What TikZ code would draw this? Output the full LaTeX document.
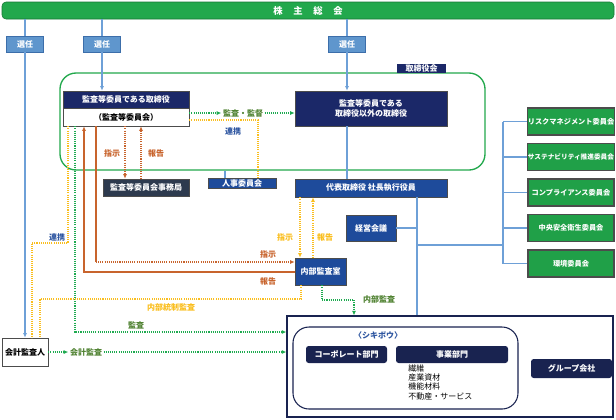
\documentclass[tikz,border=0pt]{standalone}
\usepackage{fontspec}
\setmainfont{Noto Sans CJK JP}
\usetikzlibrary{arrows.meta, positioning}

\definecolor{soukaigreen}{RGB}{34,168,76}
\definecolor{iinkaigreen}{RGB}{32,160,72}
\definecolor{navyhead}{RGB}{27,40,104}
\definecolor{blueboard}{RGB}{30,75,155}
\definecolor{slatebox}{RGB}{45,58,78}
\definecolor{selfill}{RGB}{95,150,205}
\definecolor{selborder}{RGB}{60,110,170}
\definecolor{selline}{RGB}{110,160,215}
\definecolor{houkoku}{RGB}{200,100,45}
\definecolor{renkei}{RGB}{250,190,30}
\definecolor{kansadot}{RGB}{30,170,80}
\definecolor{kansatext}{RGB}{80,130,50}
\definecolor{renkeitext}{RGB}{45,85,160}
\definecolor{groupnavy}{RGB}{25,35,80}

\begin{document}
\begin{tikzpicture}[x=0.75pt,y=0.75pt,yscale=-1,xscale=1,
  >={Latex[length=3.5pt,width=3pt]},
  boxsize/.style 2 args={minimum width=#1*0.75pt,minimum height=#2*0.75pt,inner sep=0pt},
  txt/.style={font=\fontsize{6pt}{7pt}\selectfont\bfseries},
  senbox/.style={txt,draw=selborder,fill=selfill,text=white,boxsize={37}{16}},
  navybox/.style={txt,draw=black!70,fill=navyhead,text=white,align=center},
  bluebox/.style={txt,draw=black!70,fill=blueboard,text=white,align=center},
  iinkai/.style={font=\fontsize{5.4pt}{6pt}\selectfont\bfseries,draw=black!70,line width=0.8pt,fill=iinkaigreen,text=white,boxsize={86}{27}},
  grpbox/.style={txt,fill=groupnavy,text=white,rounded corners=2pt},
  lbl/.style={txt,inner sep=1pt},
  linesel/.style={draw=selline,line width=0.9pt},
  ydot/.style={draw=renkei,line width=0.9pt,dash pattern=on 0.8pt off 0.8pt},
  gdot/.style={draw=kansadot,line width=0.9pt,dash pattern=on 0.8pt off 0.8pt},
  odot/.style={draw=houkoku,line width=0.9pt,dash pattern=on 0.8pt off 0.8pt},
  oline/.style={draw=houkoku,line width=1.1pt}]
\useasboundingbox (0,0) rectangle (616,419);

%株主総会
\node[txt,font=\fontsize{7pt}{8pt}\selectfont\bfseries,draw=soukaigreen!70!black,fill=soukaigreen,text=white,rounded corners=3pt,boxsize={612}{17}] (soukai) at (308,10.5) {株\hspace{8pt}主\hspace{8pt}総\hspace{8pt}会};

%選任
\node[senbox] (senA) at (25,44) {選任};
\node[senbox] (senB) at (102,44) {選任};
\node[senbox] (senC) at (347,44) {選任};

%取締役会
\node[draw=soukaigreen,line width=1pt,rounded corners=12pt,boxsize={425}{97}] (board) at (272.5,121.5) {};
\node[navybox,draw=none,boxsize={49}{9}] (boardlbl) at (421.5,68.5) {取締役会};

%監査等委員である取締役
\node[navybox,boxsize={126}{17}] (Ahead) at (126,99.5) {監査等委員である取締役};
\node[txt,draw=black!70,fill=white,boxsize={126}{18}] (Abody) at (126,117) {（監査等委員会）};
\node[navybox,boxsize={152}{35}] (Bnode) at (371,108.5) {監査等委員である\\取締役以外の取締役};

\node[navybox,fill=slatebox,boxsize={86}{17}] (jimu) at (146,187.5) {監査等委員会事務局};
\node[bluebox,boxsize={68}{10}] (jinji) at (242,183.5) {人事委員会};
\node[bluebox,boxsize={152}{18}] (ceo) at (371,188) {代表取締役 社長執行役員};
\node[bluebox,boxsize={50}{26}] (keiei) at (371,228) {経営会議};
\node[bluebox,boxsize={51}{27}] (naibu) at (320.5,271.5) {内部監査室};

%委員会
\foreach \t [count=\i] in {リスクマネジメント委員会,{\fontsize{5pt}{6pt}\selectfont サステナビリティ推進委員会},コンプライアンス委員会,中央安全衛生委員会,環境委員会}
  \node[iinkai] (iinkai\i) at (571,86+35.5*\i) {\t};

%会計監査人
\node[txt,draw=black!70,fill=white,boxsize={46}{28}] (kaikei) at (25,352) {会計監査人};

%グループ
\node[draw=groupnavy,line width=0.8pt,fill=white,boxsize={326}{101}] (group) at (450,366.5) {};
\node[draw=groupnavy,line width=0.8pt,rounded corners=12pt,boxsize={225}{82}] (shikibo) at (405.5,368) {};
\node[lbl,text=renkeitext] (shikibolbl) at (378,335) {〈シキボウ〉};
\node[grpbox,boxsize={81}{17}] (corp) at (346.5,354.5) {コーポレート部門};
\node[grpbox,boxsize={112}{17}] (jigyo) at (452,354.5) {事業部門};
\node[font=\fontsize{6pt}{7.1pt}\selectfont,anchor=north west,align=left,inner sep=0pt] (jigyolist) at (408,364) {繊維\\産業資材\\機能材料\\不動産・サービス};
\node[grpbox,boxsize={81}{19}] (grpco) at (571.5,368.5) {グループ会社};

%labels
\node[lbl,text=kansatext] (kansakantoku) at (243,113) {監査・監督};
\node[lbl,text=renkeitext] (renkeiA) at (233,131) {連携};
\node[lbl,text=houkoku] (shijiJ) at (112,153) {指示};
\node[lbl,text=houkoku] (houkokuJ) at (156,153) {報告};
\node[lbl,text=renkeitext] (renkeiK) at (57,237) {連携};
\node[lbl,text=renkei] (shijiC) at (285,237) {指示};
\node[lbl,text=renkei] (houkokuC) at (325,237) {報告};
\node[lbl,text=houkoku] (shijiN) at (268,254) {指示};
\node[lbl,text=houkoku] (houkokuN) at (268,281) {報告};
\node[lbl,text=kansatext] (naibukansa) at (379,299) {内部監査};
\node[lbl,text=renkei] (toseikansa) at (171,307) {内部統制監査};
\node[lbl,text=kansatext] (kansaG) at (136,325) {監査};
\node[lbl,text=kansatext] (kaikeikansa) at (86,352) {会計監査};

%選任 lines
\draw[linesel] (soukai.south -| senA) -- (senA.north);
\draw[linesel,->] (senA.south) -- (kaikei.north);
\draw[linesel] (soukai.south -| senB) -- (senB.north);
\draw[linesel,->] (senB.south) -- (senB.south |- Ahead.north);
\draw[linesel] (soukai.south -| senC) -- (senC.north);
\draw[linesel,->] (senC.south) -- (senC.south |- Bnode.north);
\draw[linesel] (Bnode.south -| senC) -- (ceo.north -| senC);

%監査・監督
\draw[gdot,->] (Abody.east |- kansakantoku) -- (kansakantoku.west);
\draw[gdot,->] (kansakantoku.east) -- (Bnode.west |- kansakantoku);

%人事委員会
\coordinate (yJ) at (258,120);
\draw[ydot] (Abody.east |- yJ) -- (yJ) -- (jinji.north -| yJ);
\coordinate (bJ) at (225,0);
\draw[linesel] (board.south -| bJ) -- (jinji.north -| bJ);

%事務局
\coordinate (oJ1) at (125,0);
\coordinate (oJ2) at (141,0);
\draw[odot,->] (Abody.south -| oJ1) -- (jimu.north -| oJ1);
\draw[odot,->] (jimu.north -| oJ2) -- (Abody.south -| oJ2);

%left side
\coordinate (yL1) at (68,243);
\coordinate (yL2) at (32,243);
\draw[ydot] (Abody.south -| yL1) -- (yL1) -- (yL2) -- (kaikei.north -| yL2);
\coordinate (gK) at (75,332);
\draw[gdot,->] (Abody.south -| gK) -- (gK) -- (group.west |- gK);
\coordinate (oS) at (96,262);
\draw[oline] (Abody.south -| oS) -- (oS);
\draw[odot,line width=1.1pt,->] (oS) -- (naibu.west |- oS);
\coordinate (oH) at (84,272);
\draw[oline,->] (naibu.west |- oH) -- (oH) -- (Abody.south -| oH);

%社長 - 内部監査室
\coordinate (yC1) at (300,0);
\coordinate (yC2) at (313,0);
\draw[ydot,->] (ceo.south -| yC1) -- (naibu.north -| yC1);
\draw[ydot,->] (naibu.north -| yC2) -- (ceo.south -| yC2);

%内部監査
\coordinate (gN1) at (322,300);
\coordinate (gN2) at (354,300);
\draw[gdot,->] (naibu.south -| gN1) -- (gN1) -- (gN2) -- (group.north -| gN2);

%内部統制監査
\coordinate (yN1) at (301,299);
\coordinate (yN2) at (40,299);
\draw[ydot] (naibu.south -| yN1) -- (yN1) -- (yN2) -- (kaikei.north -| yN2);

%会計監査
\draw[gdot,->] (kaikei.east) -- (kaikeikansa.west);
\draw[gdot,->] (kaikeikansa.east) -- (group.west |- kaikeikansa);

%執行側
\coordinate (bV) at (417,0);
\coordinate (bH) at (417,245);
\coordinate (bR) at (503,245);
\draw[linesel] (ceo.south -| bV) -- (group.north -| bV);
\draw[linesel] (keiei.east) -- (keiei.east -| bV);
\draw[linesel] (bH) -- (bR);
\draw[linesel] (iinkai1.west -| bR) -- (iinkai5.west -| bR);
\foreach \i in {1,...,5}
  \draw[linesel] (iinkai\i.west -| bR) -- (iinkai\i.west);

\end{tikzpicture}
\end{document}
